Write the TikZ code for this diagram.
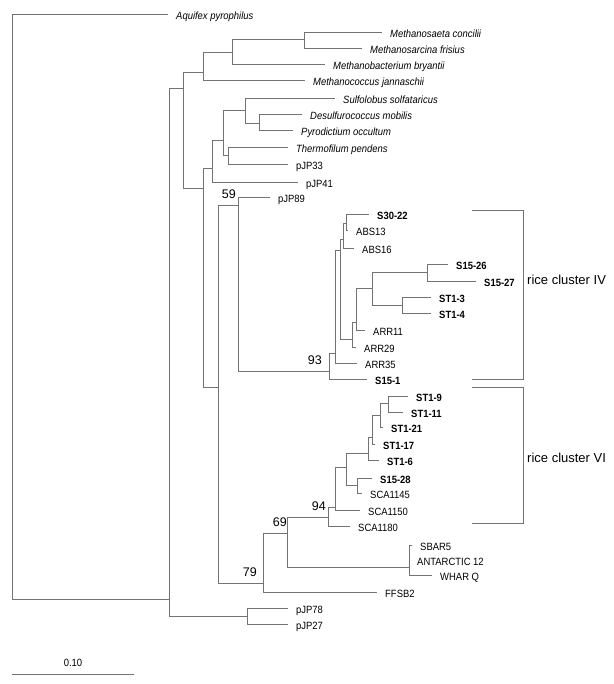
\documentclass[tikz,border=0pt]{standalone}
\usepackage{fontspec}
\setmainfont{Liberation Sans}
\newfontfamily\treefont[FakeStretch=0.9]{Liberation Sans}
\definecolor{branchgray}{gray}{0.45}
\tikzset{
    branch/.style={draw=branchgray, line width=0.6pt},
    leaf/.style={anchor=base west, inner sep=0pt, xshift=8pt, yshift=-5.5pt,
        font=\treefont\fontsize{10.5}{12}\selectfont},
    boot/.style={anchor=south east, inner sep=0pt, xshift=-2pt, yshift=6pt,
        font=\fontsize{12.5}{14}\selectfont},
    cluster/.style={anchor=west, inner sep=0pt, font=\fontsize{13}{15}\selectfont}
}
\begin{document}
\begin{tikzpicture}[x=1pt, y=-1pt]
    \useasboundingbox (0,0) rectangle (613,684);
    \foreach \n/\x/\y in {R/12/300, B/169/599, n183/183/88, nMeth/203/72,
        n232/232/52, n304/304/39, n203/203/188, n212/212/168, n223/223/140,
        n245/245/110, n259/259/123, n228/228/155, n218/218/387, n59/238/205,
        n93/329/371, n335/335/353, n340/340/250, nABS/343/239, nS30/346/223,
        nARR/352/339, n356/356/322, n372/372/288, n427/427/272, n402/402/305,
        n79/263/583, n69/287/533, n94/328/517, n335b/335/507, n346/346/467,
        n368/368/453, n372b/372/437, n380/380/415, n388/388/403, n357/357/485,
        nANT/409/567, n247/247/616} {
        \coordinate (\n) at (\x,\y);
    }
    \foreach \n/\x/\y/\t in {aqu/168/14/{\itshape Aquifex pyrophilus},
        msae/382/32/{\itshape Methanosaeta concilii},
        msar/362/48/{\itshape Methanosarcina frisius},
        mbac/325/64/{\itshape Methanobacterium bryantii},
        mcoc/305/80/{\itshape Methanococcus jannaschii},
        sulf/335/98/{\itshape Sulfolobus solfataricus},
        desu/302/114/{\itshape Desulfurococcus mobilis},
        pyro/293/130/{\itshape Pyrodictium occultum},
        ther/288/147/{\itshape Thermofilum pendens},
        p33/288/164/pJP33, p41/298/182/pJP41, p89/270/197/pJP89,
        s3022/369/214/{\bfseries S30-22}, abs13/348/230/ABS13, abs16/354/248/ABS16,
        s1526/448/264/{\bfseries S15-26}, s1527/476/281/{\bfseries S15-27},
        st13/431/297/{\bfseries ST1-3}, st14/431/313/{\bfseries ST1-4},
        arr11/365/330/ARR11, arr29/356/347/ARR29, arr35/357/363/ARR35,
        s151/367/379/{\bfseries S15-1},
        st19/408/396/{\bfseries ST1-9}, st111/403/412/{\bfseries ST1-11},
        st121/383/427/{\bfseries ST1-21}, st117/375/444/{\bfseries ST1-17},
        st16/379/460/{\bfseries ST1-6}, s1528/372/478/{\bfseries S15-28},
        sca1145/362/493/SCA1145, sca1150/360/510/SCA1150, sca1180/350/526/SCA1180,
        sbar/412/545/SBAR5, ant/409/560/ANTARCTIC 12, whar/432/575/WHAR Q,
        ffsb/377/592/FFSB2, p78/288/608/pJP78, p27/288/624/pJP27} {
        \coordinate (\n) at (\x,\y);
        \node[leaf] (t-\n) at (\n) {\t};
    }
    \foreach \p/\c in {R/aqu, R/B, B/n183, B/n247, n183/nMeth, n183/n203,
        nMeth/n232, nMeth/mcoc, n232/n304, n232/mbac, n304/msae, n304/msar,
        n203/n212, n203/n218, n212/n223, n212/p41, n223/n245, n223/n228,
        n245/sulf, n245/n259, n259/desu, n259/pyro, n228/ther, n228/p33,
        n218/n59, n218/n79, n59/p89, n59/n93, n93/n335, n93/s151,
        n335/n340, n335/arr35, n340/nABS, n340/nARR, nABS/nS30, nABS/abs16,
        nS30/s3022, nS30/abs13, nARR/n356, nARR/arr29, n356/n372, n356/arr11,
        n372/n427, n372/n402, n427/s1526, n427/s1527, n402/st13, n402/st14,
        n79/n69, n79/ffsb, n69/n94, n69/nANT, n94/n335b, n94/sca1180,
        n335b/n346, n335b/sca1150, n346/n368, n346/n357, n368/n372b, n368/st16,
        n372b/n380, n372b/st117, n380/n388, n380/st121, n388/st19, n388/st111,
        n357/s1528, n357/sca1145, nANT/sbar, nANT/ant, nANT/whar,
        n247/p78, n247/p27} {
        \draw[branch] (\p) |- (\c);
    }
    \node[boot] (b59) at (n59) {59};
    \node[boot, xshift=-5pt] (b93) at (n93) {93};
    \node[boot] (b94) at (n94) {94};
    \node[boot, xshift=2pt] (b69) at (n69) {69};
    \node[boot, xshift=-4pt] (b79) at (n79) {79};
    \draw[branch] (472,210) -| (523,379) -- (472,379);
    \node[cluster] (riceIV) at (527,280) {rice cluster IV};
    \draw[branch] (472,387) -| (523,523) -- (472,523);
    \node[cluster] (riceVI) at (527,458) {rice cluster VI};
    \coordinate (bar0) at (12,674);
    \coordinate (bar1) at (134,674);
    \draw[branch] (bar0) -- (bar1);
    \node[anchor=base, inner sep=0pt, font=\treefont\fontsize{10.5}{12}\selectfont]
        (barlabel) at (73,666) {0.10};
\end{tikzpicture}
\end{document}
